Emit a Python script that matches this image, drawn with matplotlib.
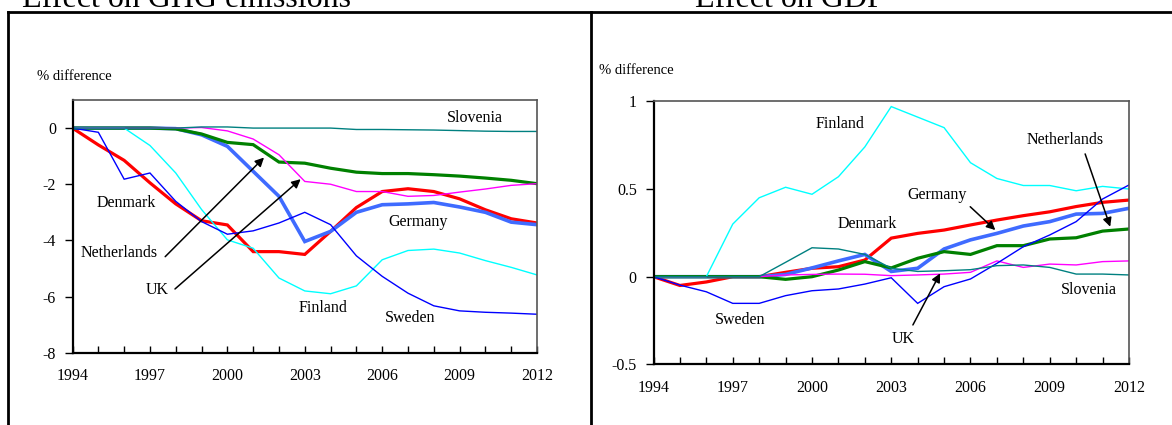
"""Simulated effect of the tax reforms on GHG emissions and GDP, 1994-2012."""

import matplotlib

matplotlib.use("Agg")
import matplotlib.pyplot as plt
from matplotlib.lines import Line2D

plt.rcParams["font.family"] = ["Liberation Serif", "DejaVu Serif"]
plt.rcParams["axes.unicode_minus"] = False

years = list(range(1994, 2013))
year_labels = ["1994", "1997", "2000", "2003", "2006", "2009", "2012"]

# --- Effect on GHG emissions (% difference) ---
ghg_denmark = [0, -0.6, -1.15, -1.95, -2.7, -3.3, -3.45, -4.4, -4.4, -4.5,
               -3.68, -2.83, -2.26, -2.16, -2.26, -2.52, -2.91, -3.23, -3.38]
ghg_germany = [0, 0, 0, 0, -0.02, -0.24, -0.65, -1.54, -2.43, -4.04,
               -3.68, -3.0, -2.73, -2.7, -2.65, -2.81, -3.0, -3.35, -3.44]
ghg_netherlands = [0, 0, 0, 0, -0.03, -0.21, -0.51, -0.59, -1.21, -1.25,
                   -1.43, -1.57, -1.62, -1.62, -1.66, -1.71, -1.78, -1.86, -1.98]
ghg_uk = [0, 0, 0, 0, 0, 0.02, -0.1, -0.39, -0.95, -1.9,
          -2.0, -2.26, -2.26, -2.43, -2.4, -2.28, -2.17, -2.04, -1.98]
ghg_finland = [0, 0, 0, -0.62, -1.6, -2.9, -3.98, -4.28, -5.34, -5.8,
               -5.9, -5.62, -4.69, -4.36, -4.31, -4.45, -4.72, -4.96, -5.23]
ghg_sweden = [0, -0.15, -1.82, -1.6, -2.61, -3.33, -3.78, -3.66, -3.38, -3.0,
              -3.44, -4.55, -5.28, -5.88, -6.33, -6.51, -6.56, -6.59, -6.63]
ghg_slovenia = [0, 0, 0, 0, 0, 0.04, 0.04, 0, 0, 0,
                0, -0.05, -0.05, -0.06, -0.07, -0.09, -0.11, -0.12, -0.12]

# --- Effect on GDP (% difference) ---
gdp_denmark = [0, -0.05, -0.03, 0, 0, 0.025, 0.048, 0.057, 0.095, 0.22,
               0.247, 0.266, 0.295, 0.323, 0.348, 0.37, 0.40, 0.424, 0.437]
gdp_germany = [0, 0, 0, 0, 0, 0.013, 0.05, 0.09, 0.127, 0.03,
               0.048, 0.158, 0.21, 0.247, 0.289, 0.314, 0.357, 0.361, 0.39]
gdp_netherlands = [0, 0, 0, 0, 0, -0.015, 0, 0.038, 0.086, 0.05,
                   0.105, 0.143, 0.127, 0.177, 0.177, 0.215, 0.222, 0.26, 0.272]
gdp_uk = [0, 0, 0, 0, 0, 0.01, 0.013, 0.015, 0.014, 0.006,
          0.01, 0.015, 0.025, 0.09, 0.053, 0.072, 0.067, 0.086, 0.09]
gdp_finland = [0, 0, 0, 0.30, 0.45, 0.51, 0.47, 0.57, 0.74, 0.97,
               0.91, 0.85, 0.65, 0.56, 0.52, 0.52, 0.49, 0.515, 0.50]
gdp_sweden = [0, -0.048, -0.086, -0.152, -0.152, -0.108, -0.08, -0.07, -0.042, -0.006,
              -0.152, -0.057, -0.013, 0.076, 0.171, 0.238, 0.314, 0.443, 0.523]
gdp_slovenia = [0, 0, 0, 0, 0, 0.082, 0.165, 0.158, 0.127, 0.048,
                0.03, 0.034, 0.04, 0.063, 0.067, 0.053, 0.015, 0.015, 0.01]

# colour, line width
STYLES = {
    "Denmark": ("#ff0000", 2.3),
    "Germany": ("#3f6bff", 2.6),
    "Netherlands": ("#008000", 2.3),
    "Finland": ("#00ffff", 1.0),
    "UK": ("#ff00ff", 1.0),
    "Sweden": ("#0000ff", 1.0),
    "Slovenia": ("#008080", 1.0),
}

ghg_series = {
    "Denmark": ghg_denmark, "Germany": ghg_germany, "Netherlands": ghg_netherlands,
    "Finland": ghg_finland, "UK": ghg_uk, "Sweden": ghg_sweden, "Slovenia": ghg_slovenia,
}
gdp_series = {
    "Denmark": gdp_denmark, "Germany": gdp_germany, "Netherlands": gdp_netherlands,
    "Finland": gdp_finland, "UK": gdp_uk, "Sweden": gdp_sweden, "Slovenia": gdp_slovenia,
}

LABEL_SIZE = 11.5
ARROW = dict(arrowstyle="-|>", color="black", lw=1.1, mutation_scale=13, shrinkA=0, shrinkB=0)


def style_axis(ax, ylim, yticks):
    ax.set_xlim(1994, 2012)
    ax.set_ylim(*ylim)
    ax.set_xticks(years, minor=True)
    ax.set_xticks([int(y) for y in year_labels])
    ax.set_xticklabels(year_labels)
    ax.set_yticks(yticks)
    ax.tick_params(axis="x", which="both", direction="in", length=5, width=1,
                   labelsize=LABEL_SIZE, pad=11)
    ax.tick_params(axis="y", direction="out", length=6, width=1,
                   labelsize=LABEL_SIZE, pad=6)
    for side in ("left", "bottom"):
        ax.spines[side].set_linewidth(1.6)
        ax.spines[side].set_color("black")
    for side in ("top", "right"):
        ax.spines[side].set_linewidth(1.2)
        ax.spines[side].set_color("#555555")


def draw_series(ax, series):
    for name, values in series.items():
        colour, lw = STYLES[name]
        ax.plot(years, values, color=colour, linewidth=lw, solid_joinstyle="miter")


fig = plt.figure(figsize=(11.72, 4.25), dpi=100)

# Left panel: GHG emissions
ax1 = fig.add_axes([0.0619, 0.1701, 0.3963, 0.5946])
draw_series(ax1, ghg_series)
style_axis(ax1, (-8, 1), [0, -2, -4, -6, -8])
ax1.set_yticklabels(["0", "-2", "-4", "-6", "-8"])
ax1.text(2009.6, 0.37, "Slovenia", ha="center", va="center", fontsize=LABEL_SIZE)
ax1.text(1996.1, -2.67, "Denmark", ha="center", va="center", fontsize=LABEL_SIZE)
ax1.text(1995.8, -4.45, "Netherlands", ha="center", va="center", fontsize=LABEL_SIZE)
ax1.text(1997.3, -5.75, "UK", ha="center", va="center", fontsize=LABEL_SIZE)
ax1.text(2007.4, -3.35, "Germany", ha="center", va="center", fontsize=LABEL_SIZE)
ax1.text(2003.7, -6.4, "Finland", ha="center", va="center", fontsize=LABEL_SIZE)
ax1.text(2007.1, -6.75, "Sweden", ha="center", va="center", fontsize=LABEL_SIZE)
ax1.annotate("", xy=(2001.42, -1.05), xytext=(1997.59, -4.58), arrowprops=ARROW)
ax1.annotate("", xy=(2002.84, -1.82), xytext=(1997.97, -5.73), arrowprops=ARROW)

# Right panel: GDP
ax2 = fig.add_axes([0.5576, 0.1426, 0.4057, 0.619])
draw_series(ax2, gdp_series)
style_axis(ax2, (-0.5, 1), [-0.5, 0, 0.5, 1])
ax2.set_yticklabels(["-0.5", "0", "0.5", "1"])
ax2.text(2001.06, 0.87, "Finland", ha="center", va="center", fontsize=LABEL_SIZE)
ax2.text(2002.08, 0.30, "Denmark", ha="center", va="center", fontsize=LABEL_SIZE)
ax2.text(1997.28, -0.247, "Sweden", ha="center", va="center", fontsize=LABEL_SIZE)
ax2.text(2004.73, 0.466, "Germany", ha="center", va="center", fontsize=LABEL_SIZE)
ax2.text(2009.59, 0.78, "Netherlands", ha="center", va="center", fontsize=LABEL_SIZE)
ax2.text(2010.5, -0.076, "Slovenia", ha="center", va="center", fontsize=LABEL_SIZE)
ax2.text(2003.44, -0.357, "UK", ha="center", va="center", fontsize=LABEL_SIZE)
ax2.annotate("", xy=(2006.94, 0.266), xytext=(2005.99, 0.399), arrowprops=ARROW)
ax2.annotate("", xy=(2011.29, 0.285), xytext=(2010.34, 0.70), arrowprops=ARROW)
ax2.annotate("", xy=(2004.85, 0.019), xytext=(2003.82, -0.275), arrowprops=ARROW)

# axis captions and (cropped) panel titles
fig.text(37 / 1172, 1 - 76 / 425, "% difference", ha="left", va="center", fontsize=10.5)
fig.text(599 / 1172, 1 - 70 / 425, "% difference", ha="left", va="center", fontsize=10.5)
fig.text(22 / 1172, 1 - 7 / 425, "Effect on GHG emissions", ha="left", va="baseline", fontsize=23)
fig.text(695 / 1172, 1 - 7 / 425, "Effect on GDP", ha="left", va="baseline", fontsize=23)

# frame around the two panels
frame = dict(color="black", linewidth=2, transform=fig.transFigure)
fig.add_artist(Line2D([8 / 1172, 1], [1 - 12 / 425] * 2, **frame))
fig.add_artist(Line2D([8 / 1172] * 2, [0, 1 - 12 / 425], **frame))
fig.add_artist(Line2D([591 / 1172] * 2, [0, 1 - 12 / 425], **frame))

fig.savefig("out.png", dpi=100)
